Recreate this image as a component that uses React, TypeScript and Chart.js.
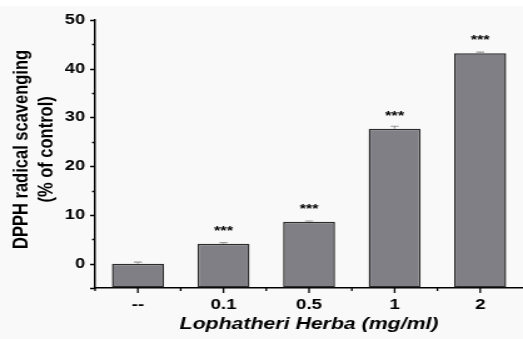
import React, { useEffect, useRef } from "react";
import { Chart, registerables } from "chart.js";

Chart.register(...registerables);

const categories = ["--", "0.1", "0.5", "1", "2"];
const values = [0.0, 4.1, 8.6, 27.7, 43.2];
const errors = [0.3, 0.2, 0.15, 0.5, 0.2];
const stars = ["", "***", "***", "***", "***"];
const yMin = -5;
const yMax = 50;
const yStep = 5;

const FONT = "'Liberation Sans', Arial, sans-serif";
// The reference figure is stretched horizontally; the canvas is drawn narrower and scaled by CSS.
const OUT_W = 523;
const OUT_H = 339;
const CANVAS_W = 418;

const decorPlugin = {
  id: "decor",
  afterDatasetsDraw(chart: any) {
    const { ctx } = chart;
    const y = chart.scales.y;
    const meta = chart.getDatasetMeta(0);
    ctx.save();
    meta.data.forEach((bar: any, i: number) => {
      const cx = bar.x;
      const top = y.getPixelForValue(values[i] + errors[i]);
      const base = bar.y;
      ctx.strokeStyle = "#9a9a9a";
      ctx.lineWidth = 1.2;
      ctx.beginPath();
      ctx.moveTo(cx, base);
      ctx.lineTo(cx, top);
      ctx.moveTo(cx - 3.2, top);
      ctx.lineTo(cx + 3.2, top);
      ctx.stroke();
      if (stars[i]) {
        ctx.fillStyle = "#000";
        ctx.font = `bold 13px ${FONT}`;
        ctx.textAlign = "center";
        ctx.textBaseline = "alphabetic";
        ctx.fillText(stars[i], cx, bar.y - 9);
      }
    });
    ctx.restore();
  },
  afterDraw(chart: any) {
    const { ctx, chartArea } = chart;
    const x = chart.scales.x;
    const y = chart.scales.y;
    ctx.save();
    ctx.strokeStyle = "#000";
    ctx.lineWidth = 1.3;
    ctx.beginPath();
    for (let v = yMin; v <= yMax; v += yStep) {
      const py = Math.round(y.getPixelForValue(v)) + 0.5;
      const len = v % 10 === 0 || v === yMin ? 4 : 2.4;
      ctx.moveTo(chartArea.left, py);
      ctx.lineTo(chartArea.left - len, py);
    }
    const n = categories.length;
    const w = x.getPixelForValue(1) - x.getPixelForValue(0);
    for (let i = 0; i < n; i++) {
      const cx = x.getPixelForValue(i);
      ctx.moveTo(cx, chartArea.bottom);
      ctx.lineTo(cx, chartArea.bottom + 5);
      const ex = cx - w / 2;
      ctx.moveTo(ex, chartArea.bottom);
      ctx.lineTo(ex, chartArea.bottom + 3);
    }
    ctx.stroke();
    ctx.restore();
  },
};

export default function App() {
  const ref = useRef<HTMLCanvasElement | null>(null);
  useEffect(() => {
    const canvas = ref.current;
    if (!canvas) return;
    const chart = new Chart(canvas, {
      type: "bar",
      data: {
        labels: categories,
        datasets: [
          {
            data: values,
            base: yMin,
            backgroundColor: "#807f86",
            borderColor: "#2b2b2b",
            borderWidth: 1.5,
            borderSkipped: false,
            categoryPercentage: 1,
            barPercentage: 0.608,
          } as any,
        ],
      },
      options: {
        responsive: false,
        animation: false,
        maintainAspectRatio: false,
        devicePixelRatio: 1,
        layout: { padding: { top: 20, left: 0, right: 0, bottom: 0 } },
        plugins: {
          legend: { display: false },
          tooltip: { enabled: false },
        },
        scales: {
          x: {
            type: "category",
            offset: true,
            grid: {
              display: true,
              drawOnChartArea: false,
              drawTicks: true,
              tickLength: 5,
              color: "rgba(0,0,0,0)",
            },
            border: { display: true, color: "#000", width: 1.5 },
            ticks: {
              color: "#000",
              padding: 3,
              font: { family: FONT, size: 15, weight: "bold" },
            },
            title: {
              display: true,
              text: "Lophatheri Herba (mg/ml)",
              color: "#000",
              font: { family: FONT, size: 17, weight: "bold", style: "italic", lineHeight: 1.2 },
              padding: { top: 0, bottom: 4 },
            },
            afterFit(scale: any) {
              scale.height = 51;
              scale.paddingLeft = 0;
              scale.paddingRight = 0;
            },
          },
          y: {
            min: yMin,
            max: yMax,
            grid: {
              display: true,
              drawOnChartArea: false,
              drawTicks: true,
              tickLength: 4,
              color: "rgba(0,0,0,0)",
            },
            border: { display: true, color: "#000", width: 1.5 },
            ticks: {
              stepSize: yStep,
              color: "#000",
              padding: 4,
              font: { family: FONT, size: 14.5, weight: "bold" },
              callback: (v: any) => (Number(v) % 10 === 0 ? String(v) : ""),
            },
            title: {
              display: true,
              text: ["\u00A0\u00A0DPPH radical scavenging", "\u00A0\u00A0(% of control)"],
              color: "#000",
              font: { family: FONT, size: 16.5, weight: "bold", lineHeight: 1.22 },
              padding: { top: 7.4, bottom: 0 },
            },
            afterFit(scale: any) {
              scale.width = 76;
              scale.paddingTop = 0;
              scale.paddingBottom = 0;
            },
          },
        },
      },
      plugins: [decorPlugin],
    });
    canvas.style.width = OUT_W + "px";
    canvas.style.height = OUT_H + "px";
    return () => chart.destroy();
  }, []);
  return (
    <div
      style={{
        position: "fixed",
        left: 0,
        top: 0,
        width: OUT_W,
        height: OUT_H,
        background: "linear-gradient(#ffffff 0px, #ffffff 6px, #f9f9f9 6px, #f9f9f9 100%)",
      }}
    >
      <canvas
        ref={ref}
        width={CANVAS_W}
        height={OUT_H}
        style={{ display: "block", width: OUT_W, height: OUT_H }}
      />
    </div>
  );
}
